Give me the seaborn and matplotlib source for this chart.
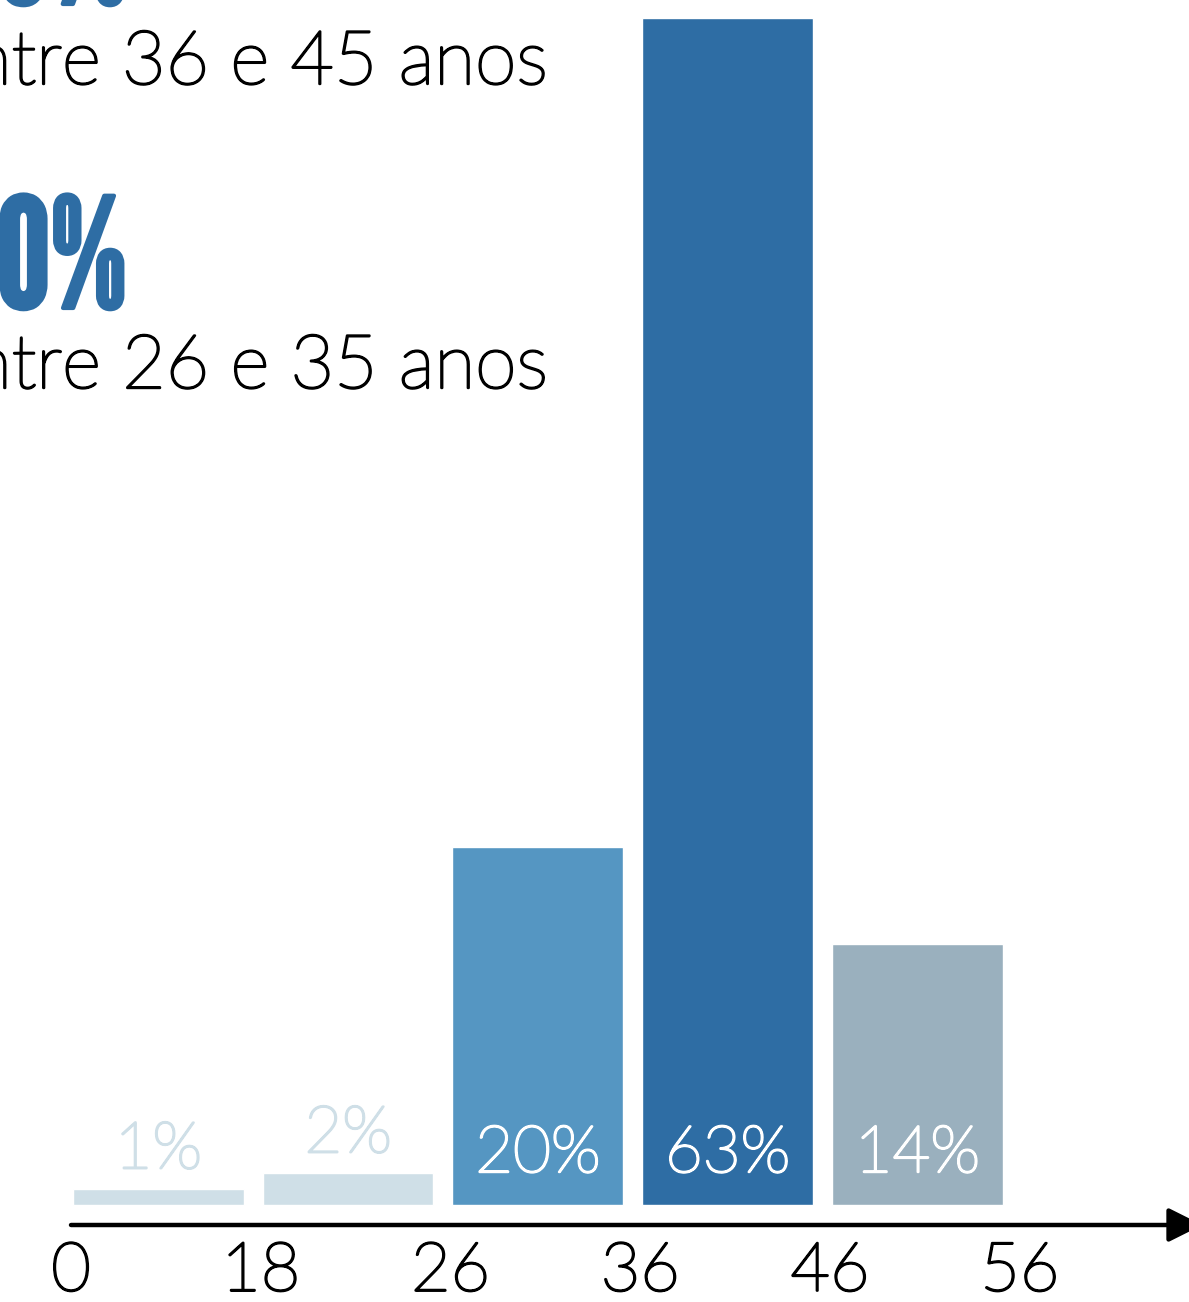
import numpy as np
import pandas as pd
import matplotlib
matplotlib.use("Agg")
import matplotlib.pyplot as plt
import matplotlib.patheffects as pe
import seaborn as sns

# age groups (bars sit between the tick ages)
groups = ["0-18", "18-26", "26-36", "36-46", "46-56"]
pct_labels = ["1%", "2%", "20%", "63%", "14%"]
bar_heights = [0.85, 1.7, 19.0, 63.0, 13.85]   # in %
tick_ages = ["0", "18", "26", "36", "46", "56"]
bar_colors = ["#cfdfe7", "#cfdfe7", "#5596c2", "#2e6da4", "#9ab0be"]
label_colors = ["#cfdfe7", "#cfdfe7", "white", "white", "white"]

headline_top = "63%"
caption_top = "Entre 36 e 45 anos"
headline_mid = "20%"
caption_mid = "Entre 26 e 35 anos"

sns.set_theme(style="white")
plt.rcParams["font.family"] = ["Lato", "DejaVu Sans"]
big_font = ["League Gothic", "Bebas Neue", "Oswald", "DejaVu Sans"]
blue = "#2e6da4"


def thicken(color, lw=1.7):
    # light weight + thin outline, a bit heavier than Lato Light
    return [pe.withStroke(linewidth=lw, foreground=color)]


W, H = 1189, 1302
fig = plt.figure(figsize=(W / 100, H / 100), dpi=100)
# axes: left edge at first bar, bottom at the arrow line
ax = fig.add_axes([71 / W, (H - 1225) / H, (W - 71) / W, 1225 / H])

df = pd.DataFrame({"group": groups, "pct": bar_heights})
sns.barplot(data=df, x="group", y="pct", hue="group", palette=bar_colors,
            width=0.9, saturation=1, legend=False, ax=ax)

px = 18.84  # pixels per percent
ax.set_ylim(-20 / px, 63 + 18 / px)
ax.set_xlim(-0.453, (W - 157) / 190)

for i, (lab, h) in enumerate(zip(pct_labels, bar_heights)):
    # small bars: label above; big bars: label inside near the bottom
    y = h + 1.1 if h < 5 else 1.75
    ax.text(i, y, lab, ha="center", va="baseline", fontsize=47,
            fontweight="light", color=label_colors[i],
            path_effects=thicken(label_colors[i]))

# axis with arrow
ax.annotate("", xy=(1.012, 0), xytext=(0, 0), xycoords="axes fraction",
            arrowprops=dict(arrowstyle="-|>", lw=3.2, color="black",
                            mutation_scale=52, shrinkA=0, shrinkB=0),
            annotation_clip=False)

ax.set_xticks(np.arange(-0.5, 5) + 0.04)
ax.set_xticklabels(tick_ages)
ax.tick_params(axis="x", length=0, pad=12, labelsize=49, labelcolor="black")
for t in ax.get_xticklabels():
    t.set_fontweight("light")
    t.set_path_effects(thicken("black"))
ax.set_yticks([])
ax.set_xlabel("")
ax.set_ylabel("")
sns.despine(ax=ax, left=True, bottom=True)

# headline texts, cut at the left edge like the original
for yb, txt in [(4, headline_top), (308, headline_mid)]:
    fig.text(127 / W, (H - yb) / H, txt, ha="right", va="baseline",
             fontsize=110, color=blue, family=big_font,
             path_effects=thicken(blue, 3))
for yb, txt in [(84, caption_top), (388, caption_mid)]:
    fig.text(548 / W, (H - yb) / H, txt, ha="right", va="baseline",
             fontsize=54, fontweight="light", color="black",
             path_effects=thicken("black"))

fig.savefig("out.png", dpi=100)
